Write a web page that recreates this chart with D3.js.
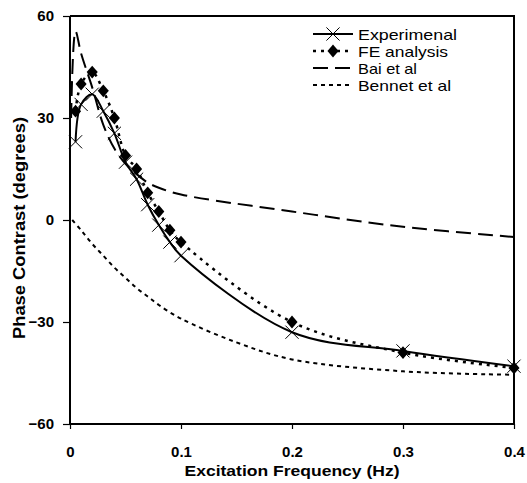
<!DOCTYPE html>
<html>
<head>
<meta charset="utf-8">
<script src="https://cdn.jsdelivr.net/npm/d3@7"></script>
<style>
  body { margin: 0; background: #fff; }
  svg text { font-family: "Liberation Sans", Arial, sans-serif; }
</style>
</head>
<body>
<div id="chart"></div>
<script>
// values
var xTicks = [0, 0.1, 0.2, 0.3, 0.4];
var yTicks = [-60, -30, 0, 30, 60];

var expFreq = [0.005, 0.01, 0.02, 0.03, 0.04, 0.05, 0.06, 0.07, 0.08, 0.09, 0.1, 0.2, 0.3, 0.4];
var expPhase = [23, 34, 37, 32, 25.5, 17, 12, 4.5, -1.5, -6.5, -10.5, -33, -38.5, -43];

var feFreq = [0.005, 0.01, 0.02, 0.03, 0.04, 0.05, 0.06, 0.07, 0.08, 0.09, 0.1, 0.2, 0.3, 0.4];
var fePhase = [32, 40, 43.5, 38, 30, 19, 15, 8, 2.5, -3, -6.5, -30, -39, -43.5];

var baiFreq = [0.001, 0.005, 0.01, 0.02, 0.03, 0.04, 0.05, 0.06, 0.07, 0.08, 0.1, 0.2, 0.3, 0.4];
var baiPhase = [30, 55.5, 49, 39, 28, 21, 16.5, 13.5, 11, 9.5, 7.5, 2.5, -2, -5];

var benFreq = [0.002, 0.01, 0.02, 0.03, 0.04, 0.05, 0.06, 0.07, 0.08, 0.1, 0.15, 0.2, 0.3, 0.4];
var benPhase = [0, -3, -7, -10.5, -14, -17, -20, -22.5, -25, -29, -36, -41, -44.5, -45.5];

var legendNames = ["Experimenal", "FE analysis", "Bai et al", "Bennet et al"];

var w = 527, h = 483;
var svg = d3.select("#chart").append("svg")
    .attr("width", w)
    .attr("height", h);

var xScale = d3.scaleLinear().domain([0, 0.4]).range([70, 514]);
var yScale = d3.scaleLinear().domain([-60, 60]).range([424, 16]);

function pairs(xs, ys) {
    return xs.map(function (x, i) { return [x, ys[i]]; });
}

var line = d3.line()
    .x(function (d) { return xScale(d[0]); })
    .y(function (d) { return yScale(d[1]); })
    .curve(d3.curveCatmullRom.alpha(0.5));

// frame: top and right
svg.append("path")
    .attr("d", "M" + xScale(0) + "," + yScale(60) + "H" + xScale(0.4) + "V" + yScale(-60))
    .attr("fill", "none")
    .attr("stroke", "#000")
    .attr("stroke-width", 2);

var xAxis = d3.axisBottom(xScale)
    .tickValues(xTicks)
    .tickSize(5)
    .tickPadding(17)
    .tickFormat(function (d) { return d === 0 ? "0" : d3.format(".1f")(d); });

var yAxis = d3.axisLeft(yScale)
    .tickValues(yTicks)
    .tickSize(7)
    .tickPadding(9);

var gx = svg.append("g")
    .attr("transform", "translate(0," + yScale(-60) + ")")
    .call(xAxis);
var gy = svg.append("g")
    .attr("transform", "translate(" + xScale(0) + ",0)")
    .call(yAxis);

[gx, gy].forEach(function (g) {
    g.select(".domain").attr("stroke-width", 2);
    g.selectAll(".tick line").attr("stroke-width", 1.2);
    g.selectAll("text")
        .attr("font-size", 15)
        .attr("font-weight", "bold")
        .attr("fill", "#000")
        .style("font-family", "'Liberation Sans', Arial, sans-serif");
});
gx.select(".domain").attr("d", "M" + xScale(0) + ",0H" + xScale(0.4));
gy.select(".domain").attr("d", "M0," + yScale(60) + "V" + yScale(-60));

svg.append("text")
    .attr("x", xScale(0.2))
    .attr("y", 476)
    .attr("text-anchor", "middle")
    .attr("font-size", 15)
    .attr("font-weight", "bold")
    .attr("textLength", 215)
    .attr("lengthAdjust", "spacingAndGlyphs")
    .text("Excitation Frequency (Hz)");

svg.append("text")
    .attr("transform", "translate(25," + 228 + ") rotate(-90)")
    .attr("text-anchor", "middle")
    .attr("font-size", 16)
    .attr("font-weight", "bold")
    .attr("textLength", 222)
    .attr("lengthAdjust", "spacingAndGlyphs")
    .text("Phase Contrast (degrees)");

// series lines
svg.append("path")
    .datum(pairs(benFreq, benPhase))
    .attr("d", line)
    .attr("fill", "none")
    .attr("stroke", "#000")
    .attr("stroke-width", 2)
    .attr("stroke-dasharray", "4,4");

svg.append("path")
    .datum(pairs(baiFreq, baiPhase))
    .attr("d", line)
    .attr("fill", "none")
    .attr("stroke", "#000")
    .attr("stroke-width", 2)
    .attr("stroke-dasharray", "15,7");

svg.append("path")
    .datum(pairs(feFreq, fePhase))
    .attr("d", line)
    .attr("fill", "none")
    .attr("stroke", "#000")
    .attr("stroke-width", 2.5)
    .attr("stroke-dasharray", "3,5");

svg.append("path")
    .datum(pairs(expFreq, expPhase))
    .attr("d", line)
    .attr("fill", "none")
    .attr("stroke", "#000")
    .attr("stroke-width", 2);

// markers
var square = d3.symbol().type(d3.symbolSquare).size(68);
var diamondTf = " scale(0.95,1.1) rotate(45)";
svg.selectAll(".fe")
    .data(pairs(feFreq, fePhase))
    .enter().append("path")
    .attr("class", "fe")
    .attr("d", square)
    .attr("transform", function (d) {
        return "translate(" + xScale(d[0]) + "," + yScale(d[1]) + ")" + diamondTf;
    })
    .attr("fill", "#000");

var cross = d3.symbol().type(d3.symbolX).size(115);
svg.selectAll(".exp")
    .data(pairs(expFreq, expPhase))
    .enter().append("path")
    .attr("class", "exp")
    .attr("d", cross)
    .attr("transform", function (d) {
        return "translate(" + xScale(d[0]) + "," + yScale(d[1]) + ")";
    })
    .attr("fill", "none")
    .attr("stroke", "#000")
    .attr("stroke-width", 1);

// legend
var legStyles = [
    { dash: null, width: 2, len: 99 },
    { dash: "3,5", width: 2.5, len: 90 },
    { dash: "15,7", width: 2, len: 59 },
    { dash: "4,4", width: 2, len: 93 }
];
var leg = svg.append("g").attr("transform", "translate(313,34)");
var rows = leg.selectAll("g")
    .data(legendNames)
    .enter().append("g")
    .attr("transform", function (d, i) { return "translate(0," + (i * 17) + ")"; });
rows.append("line")
    .attr("x1", 0).attr("x2", 40)
    .attr("y1", 0).attr("y2", 0)
    .attr("stroke", "#000")
    .attr("stroke-width", function (d, i) { return legStyles[i].width; })
    .attr("stroke-dasharray", function (d, i) { return legStyles[i].dash; });
rows.append("text")
    .attr("x", 45)
    .attr("y", 5.5)
    .attr("font-size", 15)
    .attr("textLength", function (d, i) { return legStyles[i].len; })
    .attr("lengthAdjust", "spacingAndGlyphs")
    .text(function (d) { return d; });
rows.filter(function (d, i) { return i === 0; })
    .append("path")
    .attr("d", cross)
    .attr("transform", "translate(20,0)")
    .attr("fill", "none")
    .attr("stroke", "#000");
rows.filter(function (d, i) { return i === 1; })
    .append("path")
    .attr("d", square)
    .attr("transform", "translate(20,0)" + diamondTf)
    .attr("fill", "#000");
</script>
</body>
</html>
